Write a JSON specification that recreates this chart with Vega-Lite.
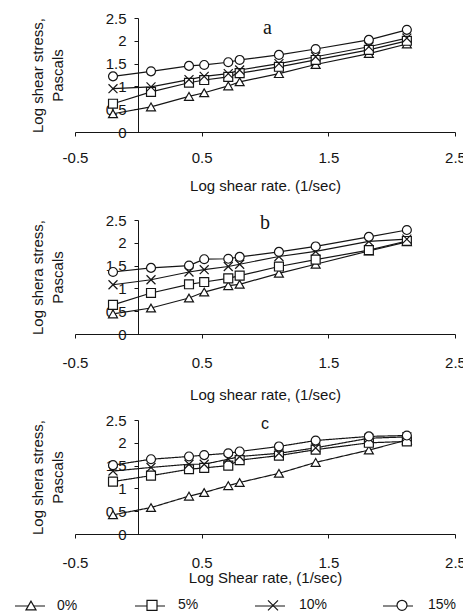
{
  "$schema": "https://vega.github.io/schema/vega-lite/v6.json",
  "background": "white",
  "padding": {"left": 14, "top": 11, "right": 0, "bottom": 0},
  "spacing": 18,
  "config": {
    "view": {"stroke": null},
    "font": "Liberation Sans",
    "axis": {"grid": false, "labelFlush": false, "labelOverlap": false, "domainColor": "#151515", "tickColor": "#151515", "labelColor": "#151515", "titleColor": "#151515", "labelFont": "Liberation Sans", "titleFont": "Liberation Sans", "labelFontSize": 15, "titleFontSize": 15, "titleFontWeight": "normal", "domainWidth": 1, "tickSize": 4, "tickWidth": 1}
  },
  "datasets": {
    "d": [
      {"p":"a","s":"0%","x":-0.2,"y":0.40},{"p":"a","s":"0%","x":0.1,"y":0.55},{"p":"a","s":"0%","x":0.4,"y":0.78},{"p":"a","s":"0%","x":0.52,"y":0.86},{"p":"a","s":"0%","x":0.71,"y":1.01},{"p":"a","s":"0%","x":0.8,"y":1.10},{"p":"a","s":"0%","x":1.11,"y":1.28},{"p":"a","s":"0%","x":1.4,"y":1.48},{"p":"a","s":"0%","x":1.82,"y":1.72},{"p":"a","s":"0%","x":2.12,"y":1.93},
      {"p":"a","s":"5%","x":-0.2,"y":0.62},{"p":"a","s":"5%","x":0.1,"y":0.88},{"p":"a","s":"5%","x":0.4,"y":1.08},{"p":"a","s":"5%","x":0.52,"y":1.14},{"p":"a","s":"5%","x":0.71,"y":1.21},{"p":"a","s":"5%","x":0.8,"y":1.29},{"p":"a","s":"5%","x":1.11,"y":1.43},{"p":"a","s":"5%","x":1.4,"y":1.58},{"p":"a","s":"5%","x":1.82,"y":1.80},{"p":"a","s":"5%","x":2.12,"y":2.00},
      {"p":"a","s":"10%","x":-0.2,"y":0.95},{"p":"a","s":"10%","x":0.1,"y":0.99},{"p":"a","s":"10%","x":0.4,"y":1.15},{"p":"a","s":"10%","x":0.52,"y":1.22},{"p":"a","s":"10%","x":0.71,"y":1.28},{"p":"a","s":"10%","x":0.8,"y":1.36},{"p":"a","s":"10%","x":1.11,"y":1.50},{"p":"a","s":"10%","x":1.4,"y":1.65},{"p":"a","s":"10%","x":1.82,"y":1.87},{"p":"a","s":"10%","x":2.12,"y":2.06},
      {"p":"a","s":"15%","x":-0.2,"y":1.22},{"p":"a","s":"15%","x":0.1,"y":1.33},{"p":"a","s":"15%","x":0.4,"y":1.45},{"p":"a","s":"15%","x":0.52,"y":1.47},{"p":"a","s":"15%","x":0.71,"y":1.53},{"p":"a","s":"15%","x":0.8,"y":1.58},{"p":"a","s":"15%","x":1.11,"y":1.69},{"p":"a","s":"15%","x":1.4,"y":1.82},{"p":"a","s":"15%","x":1.82,"y":2.02},{"p":"a","s":"15%","x":2.12,"y":2.24},
      {"p":"b","s":"0%","x":-0.2,"y":0.44},{"p":"b","s":"0%","x":0.1,"y":0.57},{"p":"b","s":"0%","x":0.4,"y":0.79},{"p":"b","s":"0%","x":0.52,"y":0.92},{"p":"b","s":"0%","x":0.71,"y":1.06},{"p":"b","s":"0%","x":0.8,"y":1.09},{"p":"b","s":"0%","x":1.11,"y":1.33},{"p":"b","s":"0%","x":1.4,"y":1.53},{"p":"b","s":"0%","x":1.82,"y":1.82},{"p":"b","s":"0%","x":2.12,"y":2.02},
      {"p":"b","s":"5%","x":-0.2,"y":0.64},{"p":"b","s":"5%","x":0.1,"y":0.90},{"p":"b","s":"5%","x":0.4,"y":1.09},{"p":"b","s":"5%","x":0.52,"y":1.14},{"p":"b","s":"5%","x":0.71,"y":1.22},{"p":"b","s":"5%","x":0.8,"y":1.28},{"p":"b","s":"5%","x":1.11,"y":1.48},{"p":"b","s":"5%","x":1.4,"y":1.63},{"p":"b","s":"5%","x":1.82,"y":1.84},{"p":"b","s":"5%","x":2.12,"y":2.04},
      {"p":"b","s":"10%","x":-0.2,"y":1.08},{"p":"b","s":"10%","x":0.1,"y":1.19},{"p":"b","s":"10%","x":0.4,"y":1.36},{"p":"b","s":"10%","x":0.52,"y":1.41},{"p":"b","s":"10%","x":0.71,"y":1.48},{"p":"b","s":"10%","x":0.8,"y":1.53},{"p":"b","s":"10%","x":1.11,"y":1.70},{"p":"b","s":"10%","x":1.4,"y":1.81},{"p":"b","s":"10%","x":1.82,"y":2.03},{"p":"b","s":"10%","x":2.12,"y":2.08},
      {"p":"b","s":"15%","x":-0.2,"y":1.36},{"p":"b","s":"15%","x":0.1,"y":1.45},{"p":"b","s":"15%","x":0.4,"y":1.50},{"p":"b","s":"15%","x":0.52,"y":1.64},{"p":"b","s":"15%","x":0.71,"y":1.65},{"p":"b","s":"15%","x":0.8,"y":1.69},{"p":"b","s":"15%","x":1.11,"y":1.80},{"p":"b","s":"15%","x":1.4,"y":1.92},{"p":"b","s":"15%","x":1.82,"y":2.13},{"p":"b","s":"15%","x":2.12,"y":2.28},
      {"p":"c","s":"0%","x":-0.2,"y":0.42},{"p":"c","s":"0%","x":0.1,"y":0.58},{"p":"c","s":"0%","x":0.4,"y":0.83},{"p":"c","s":"0%","x":0.52,"y":0.91},{"p":"c","s":"0%","x":0.71,"y":1.06},{"p":"c","s":"0%","x":0.8,"y":1.13},{"p":"c","s":"0%","x":1.11,"y":1.33},{"p":"c","s":"0%","x":1.4,"y":1.57},{"p":"c","s":"0%","x":1.82,"y":1.84},{"p":"c","s":"0%","x":2.12,"y":2.06},
      {"p":"c","s":"5%","x":-0.2,"y":1.15},{"p":"c","s":"5%","x":0.1,"y":1.28},{"p":"c","s":"5%","x":0.4,"y":1.42},{"p":"c","s":"5%","x":0.52,"y":1.45},{"p":"c","s":"5%","x":0.71,"y":1.50},{"p":"c","s":"5%","x":0.8,"y":1.62},{"p":"c","s":"5%","x":1.11,"y":1.72},{"p":"c","s":"5%","x":1.4,"y":1.85},{"p":"c","s":"5%","x":1.82,"y":2.00},{"p":"c","s":"5%","x":2.12,"y":2.03},
      {"p":"c","s":"10%","x":-0.2,"y":1.38},{"p":"c","s":"10%","x":0.1,"y":1.46},{"p":"c","s":"10%","x":0.4,"y":1.53},{"p":"c","s":"10%","x":0.52,"y":1.53},{"p":"c","s":"10%","x":0.71,"y":1.64},{"p":"c","s":"10%","x":0.8,"y":1.70},{"p":"c","s":"10%","x":1.11,"y":1.77},{"p":"c","s":"10%","x":1.4,"y":1.89},{"p":"c","s":"10%","x":1.82,"y":2.10},{"p":"c","s":"10%","x":2.12,"y":2.13},
      {"p":"c","s":"15%","x":-0.2,"y":1.51},{"p":"c","s":"15%","x":0.1,"y":1.64},{"p":"c","s":"15%","x":0.4,"y":1.70},{"p":"c","s":"15%","x":0.52,"y":1.73},{"p":"c","s":"15%","x":0.71,"y":1.77},{"p":"c","s":"15%","x":0.8,"y":1.81},{"p":"c","s":"15%","x":1.11,"y":1.92},{"p":"c","s":"15%","x":1.4,"y":2.05},{"p":"c","s":"15%","x":1.82,"y":2.14},{"p":"c","s":"15%","x":2.12,"y":2.16}
    ]
  },
  "vconcat": [
    {
      "width": 380, "height": 114,
      "layer": [
        {"data": {"name": "d"}, "transform": [{"filter": "datum.p === 'a'"}],
         "mark": {"type": "line", "color": "#151515", "strokeWidth": 1.2},
         "encoding": {
           "x": {"field": "x", "type": "quantitative", "scale": {"domain": [-0.5, 2.5], "nice": false, "zero": false}, "axis": {"values": [-0.5, 0.5, 1.5, 2.5], "labelExpr": "datum.value < 0 ? '-' + format(-datum.value, '.1f') : format(datum.value, '.1f')", "labelPadding": 14.5, "title": "Log shear rate. (1/sec)", "titlePadding": 13}},
           "y": {"field": "y", "type": "quantitative", "scale": {"domain": [0, 2.5], "nice": false}, "axis": {"values": [0, 0.5, 1, 1.5, 2, 2.5], "labelExpr": "format(datum.value, '~g')", "offset": -63, "labelPadding": 8, "title": ["Log shear stress,", "Pascals"], "titleAngle": -90, "titleX": -108, "titleBaseline": "top", "titleLineHeight": 20}},
           "detail": {"field": "s"}}},
        {"data": {"name": "d"}, "transform": [{"filter": "datum.p === 'a'"}],
         "mark": {"type": "point", "filled": true, "fill": "white", "stroke": "#151515", "strokeWidth": 1.2, "size": 80, "opacity": 1},
         "encoding": {
           "x": {"field": "x", "type": "quantitative", "scale": {"domain": [-0.5, 2.5], "nice": false, "zero": false}, "axis": {"values": [-0.5, 0.5, 1.5, 2.5], "labelExpr": "datum.value < 0 ? '-' + format(-datum.value, '.1f') : format(datum.value, '.1f')", "labelPadding": 14.5, "title": "Log shear rate. (1/sec)", "titlePadding": 13}},
           "y": {"field": "y", "type": "quantitative", "scale": {"domain": [0, 2.5], "nice": false}, "axis": {"values": [0, 0.5, 1, 1.5, 2, 2.5], "labelExpr": "format(datum.value, '~g')", "offset": -63, "labelPadding": 8, "title": ["Log shear stress,", "Pascals"], "titleAngle": -90, "titleX": -108, "titleBaseline": "top", "titleLineHeight": 20}},
           "shape": {"field": "s", "type": "nominal", "scale": {"domain": ["0%", "5%", "10%", "15%"], "range": ["triangle-up", "square", "M-1,-1L1,1M-1,1L1,-1", "circle"]}}}},
        {"data": {"values": [{"label": "a"}]},
         "mark": {"type": "text", "font": "Liberation Serif", "fontSize": 20, "fill": "#151515", "baseline": "middle", "align": "center"},
         "encoding": {
           "x": {"datum": 1.02, "type": "quantitative", "scale": {"domain": [-0.5, 2.5], "nice": false, "zero": false}, "axis": {"values": [-0.5, 0.5, 1.5, 2.5], "labelExpr": "datum.value < 0 ? '-' + format(-datum.value, '.1f') : format(datum.value, '.1f')", "labelPadding": 14.5, "title": "Log shear rate. (1/sec)", "titlePadding": 13}},
           "y": {"datum": 2.28, "type": "quantitative", "scale": {"domain": [0, 2.5], "nice": false}, "axis": {"values": [0, 0.5, 1, 1.5, 2, 2.5], "labelExpr": "format(datum.value, '~g')", "offset": -63, "labelPadding": 8, "title": ["Log shear stress,", "Pascals"], "titleAngle": -90, "titleX": -108, "titleBaseline": "top", "titleLineHeight": 20}},
           "text": {"field": "label", "type": "nominal"}}}
      ]
    },
    {
      "spacing": 10,
      "vconcat": [
        {
          "width": 380, "height": 114,
          "layer": [
            {"data": {"name": "d"}, "transform": [{"filter": "datum.p === 'b'"}],
             "mark": {"type": "line", "color": "#151515", "strokeWidth": 1.2},
             "encoding": {
               "x": {"field": "x", "type": "quantitative", "scale": {"domain": [-0.5, 2.5], "nice": false, "zero": false}, "axis": {"values": [-0.5, 0.5, 1.5, 2.5], "labelExpr": "datum.value < 0 ? '-' + format(-datum.value, '.1f') : format(datum.value, '.1f')", "labelPadding": 17.5, "title": "Log shear rate, (1/sec)", "titlePadding": 17}},
               "y": {"field": "y", "type": "quantitative", "scale": {"domain": [0, 2.5], "nice": false}, "axis": {"values": [0, 0.5, 1, 1.5, 2, 2.5], "labelExpr": "format(datum.value, '~g')", "offset": -63, "labelPadding": 8, "title": ["Log shera stress,", "Pascals"], "titleAngle": -90, "titleX": -108, "titleBaseline": "top", "titleLineHeight": 20}},
               "detail": {"field": "s"}}},
            {"data": {"name": "d"}, "transform": [{"filter": "datum.p === 'b'"}],
             "mark": {"type": "point", "filled": true, "fill": "white", "stroke": "#151515", "strokeWidth": 1.2, "size": 80, "opacity": 1},
             "encoding": {
               "x": {"field": "x", "type": "quantitative", "scale": {"domain": [-0.5, 2.5], "nice": false, "zero": false}, "axis": {"values": [-0.5, 0.5, 1.5, 2.5], "labelExpr": "datum.value < 0 ? '-' + format(-datum.value, '.1f') : format(datum.value, '.1f')", "labelPadding": 17.5, "title": "Log shear rate, (1/sec)", "titlePadding": 17}},
               "y": {"field": "y", "type": "quantitative", "scale": {"domain": [0, 2.5], "nice": false}, "axis": {"values": [0, 0.5, 1, 1.5, 2, 2.5], "labelExpr": "format(datum.value, '~g')", "offset": -63, "labelPadding": 8, "title": ["Log shera stress,", "Pascals"], "titleAngle": -90, "titleX": -108, "titleBaseline": "top", "titleLineHeight": 20}},
               "shape": {"field": "s", "type": "nominal", "scale": {"domain": ["0%", "5%", "10%", "15%"], "range": ["triangle-up", "square", "M-1,-1L1,1M-1,1L1,-1", "circle"]}}}},
            {"data": {"values": [{"label": "b"}]},
             "mark": {"type": "text", "font": "Liberation Serif", "fontSize": 20, "fill": "#151515", "baseline": "middle", "align": "center"},
             "encoding": {
               "x": {"datum": 1.0, "type": "quantitative", "scale": {"domain": [-0.5, 2.5], "nice": false, "zero": false}, "axis": {"values": [-0.5, 0.5, 1.5, 2.5], "labelExpr": "datum.value < 0 ? '-' + format(-datum.value, '.1f') : format(datum.value, '.1f')", "labelPadding": 17.5, "title": "Log shear rate, (1/sec)", "titlePadding": 17}},
               "y": {"datum": 2.44, "type": "quantitative", "scale": {"domain": [0, 2.5], "nice": false}, "axis": {"values": [0, 0.5, 1, 1.5, 2, 2.5], "labelExpr": "format(datum.value, '~g')", "offset": -63, "labelPadding": 8, "title": ["Log shera stress,", "Pascals"], "titleAngle": -90, "titleX": -108, "titleBaseline": "top", "titleLineHeight": 20}},
               "text": {"field": "label", "type": "nominal"}}}
          ]
        },
        {
          "width": 380, "height": 114,
          "layer": [
            {"data": {"name": "d"}, "transform": [{"filter": "datum.p === 'c'"}],
             "mark": {"type": "line", "color": "#151515", "strokeWidth": 1.2},
             "encoding": {
               "x": {"field": "x", "type": "quantitative", "scale": {"domain": [-0.5, 2.5], "nice": false, "zero": false}, "axis": {"values": [-0.5, 0.5, 1.5, 2.5], "labelExpr": "datum.value < 0 ? '-' + format(-datum.value, '.1f') : format(datum.value, '.1f')", "labelPadding": 17.5, "title": "Log Shear rate, (1/sec)", "titlePadding": 0}},
               "y": {"field": "y", "type": "quantitative", "scale": {"domain": [0, 2.5], "nice": false}, "axis": {"values": [0, 0.5, 1, 1.5, 2, 2.5], "labelExpr": "format(datum.value, '~g')", "offset": -63, "labelPadding": 8, "title": ["Log shera stress,", "Pascals"], "titleAngle": -90, "titleX": -108, "titleBaseline": "top", "titleLineHeight": 20}},
               "strokeDash": {"field": "s", "type": "nominal", "sort": ["0%", "5%", "10%", "15%"], "scale": {"range": [[1, 0], [1, 0], [1, 0], [1, 0]]},
                 "legend": {"title": null, "orient": "none", "legendX": -61, "legendY": 572, "direction": "horizontal", "columns": 4, "columnPadding": 66, "padding": 0, "symbolSize": 900, "symbolType": "M-1,0H1", "symbolStrokeColor": "#151515", "symbolStrokeWidth": 1.2, "labelOffset": -1, "labelFontSize": 14, "labelFont": "Liberation Sans", "labelOpacity": 0, "zindex": 0}}}},
            {"data": {"name": "d"}, "transform": [{"filter": "datum.p === 'c'"}],
             "mark": {"type": "point", "filled": true, "fill": "white", "stroke": "#151515", "strokeWidth": 1.2, "size": 80, "opacity": 1},
             "encoding": {
               "x": {"field": "x", "type": "quantitative", "scale": {"domain": [-0.5, 2.5], "nice": false, "zero": false}, "axis": {"values": [-0.5, 0.5, 1.5, 2.5], "labelExpr": "datum.value < 0 ? '-' + format(-datum.value, '.1f') : format(datum.value, '.1f')", "labelPadding": 17.5, "title": "Log Shear rate, (1/sec)", "titlePadding": 0}},
               "y": {"field": "y", "type": "quantitative", "scale": {"domain": [0, 2.5], "nice": false}, "axis": {"values": [0, 0.5, 1, 1.5, 2, 2.5], "labelExpr": "format(datum.value, '~g')", "offset": -63, "labelPadding": 8, "title": ["Log shera stress,", "Pascals"], "titleAngle": -90, "titleX": -108, "titleBaseline": "top", "titleLineHeight": 20}},
               "shape": {"field": "s", "type": "nominal", "scale": {"domain": ["0%", "5%", "10%", "15%"], "range": ["triangle-up", "square", "M-1,-1L1,1M-1,1L1,-1", "circle"]},
               "legend": {"title": null, "orient": "none", "legendX": -51, "legendY": 580, "direction": "horizontal", "columns": 4, "columnPadding": 66, "padding": 0, "symbolSize": 100, "labelOffset": 19, "labelFontSize": 14, "labelFont": "Liberation Sans", "labelColor": "#151515", "symbolFillColor": "white", "symbolStrokeColor": "#151515", "symbolStrokeWidth": 1.2, "zindex": 1,
                 "encoding": {"symbols": {"fill": {"value": "white"}, "stroke": {"value": "#151515"}, "strokeWidth": {"value": 1.2}, "opacity": {"value": 1}}}}}}},
            {"data": {"values": [{"label": "c"}]},
             "mark": {"type": "text", "font": "Liberation Sans", "fontSize": 16, "fill": "#151515", "baseline": "middle", "align": "center"},
             "encoding": {
               "x": {"datum": 1.0, "type": "quantitative", "scale": {"domain": [-0.5, 2.5], "nice": false, "zero": false}, "axis": {"values": [-0.5, 0.5, 1.5, 2.5], "labelExpr": "datum.value < 0 ? '-' + format(-datum.value, '.1f') : format(datum.value, '.1f')", "labelPadding": 17.5, "title": "Log Shear rate, (1/sec)", "titlePadding": 0}},
               "y": {"datum": 2.41, "type": "quantitative", "scale": {"domain": [0, 2.5], "nice": false}, "axis": {"values": [0, 0.5, 1, 1.5, 2, 2.5], "labelExpr": "format(datum.value, '~g')", "offset": -63, "labelPadding": 8, "title": ["Log shera stress,", "Pascals"], "titleAngle": -90, "titleX": -108, "titleBaseline": "top", "titleLineHeight": 20}},
               "text": {"field": "label", "type": "nominal"}}}
          ]
        }
      ]
    }
  ]
}
